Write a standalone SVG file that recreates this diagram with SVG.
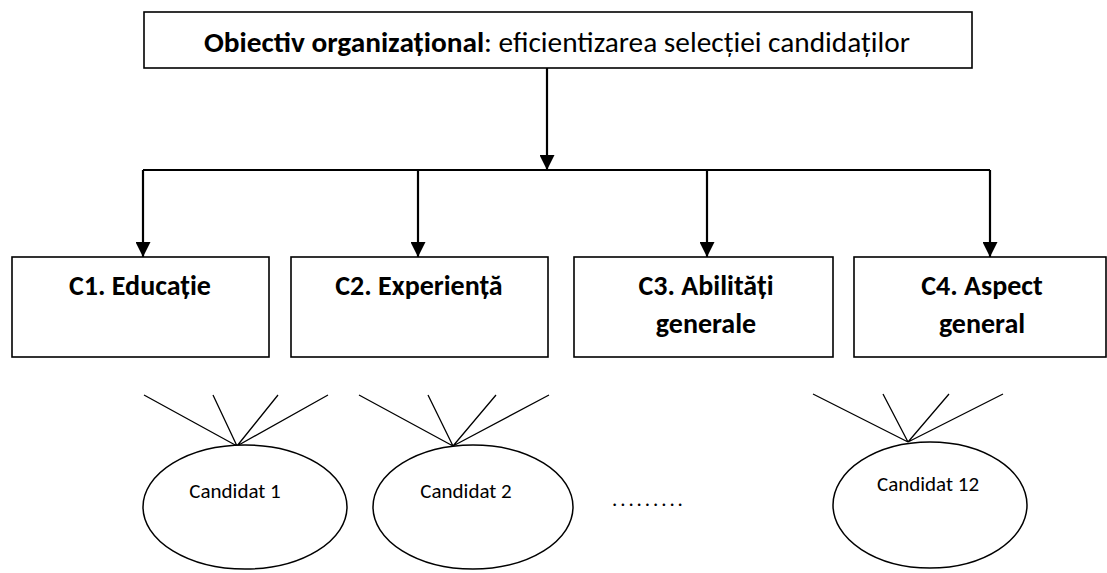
<svg xmlns="http://www.w3.org/2000/svg" width="1107" height="573" viewBox="0 0 1107 573">
<style>
.box{fill:#fff;stroke:#000;stroke-width:1.6}
.conn{fill:none;stroke:#000;stroke-width:2.2}
.fan{fill:none;stroke:#000;stroke-width:1.3}
.ell{fill:#fff;stroke:#000;stroke-width:1.5}
.t{font-family:Carlito,Lato,"Liberation Sans",sans-serif;fill:#000}
.cb{font-size:28px;font-weight:bold;text-anchor:middle}
.cand{font-size:21px;text-anchor:middle}
</style>
<defs>
<marker id="arr" viewBox="0 0 10 10" refX="10" refY="5" markerWidth="15" markerHeight="15" markerUnits="userSpaceOnUse" orient="auto">
<path d="M0,0 L10,5 L0,10 z" fill="#000"/>
</marker>
</defs>
<rect width="1107" height="573" fill="#fff"/>
<g id="obiectiv">
<rect class="box" x="144" y="12" width="828" height="56"/>
<text class="t" x="204" y="52" font-size="28" textLength="706" lengthAdjust="spacingAndGlyphs"><tspan font-weight="bold">Obiectiv organizațional</tspan>: eficientizarea selecției candidaților</text>
</g>
<g id="connectors">
<line class="conn" x1="547" y1="68" x2="547" y2="170" marker-end="url(#arr)"/>
<line class="conn" x1="143" y1="170" x2="990" y2="170"/>
<line class="conn" x1="143" y1="170" x2="143" y2="257" marker-end="url(#arr)"/>
<line class="conn" x1="418" y1="170" x2="418" y2="257" marker-end="url(#arr)"/>
<line class="conn" x1="707" y1="170" x2="707" y2="257" marker-end="url(#arr)"/>
<line class="conn" x1="990" y1="170" x2="990" y2="257" marker-end="url(#arr)"/>
<path class="fan" d="M237,446 L144,395 M237,446 L213,395 M237,446 L278,395 M237,446 L328,395"/>
<path class="fan" d="M453,446 L359,395 M453,446 L428,395 M453,446 L496,395 M453,446 L549,395"/>
<path class="fan" d="M908,442 L813,394 M908,442 L883,394 M908,442 L949,394 M908,442 L1003,394"/>
</g>
<g id="c1">
<rect class="box" x="12" y="257" width="257" height="100"/>
<text class="t cb" x="140" y="295">C1. Educație</text>
</g>
<g id="c2">
<rect class="box" x="291" y="257" width="257" height="100"/>
<text class="t cb" x="419" y="295">C2. Experiență</text>
</g>
<g id="c3">
<rect class="box" x="574" y="257" width="259" height="100"/>
<text class="t cb" x="706" y="295">C3. Abilități</text>
<text class="t cb" x="706" y="333">generale</text>
</g>
<g id="c4">
<rect class="box" x="854" y="257" width="252" height="100"/>
<text class="t cb" x="982" y="295">C4. Aspect</text>
<text class="t cb" x="982" y="333">general</text>
</g>
<g id="candidat1">
<ellipse class="ell" cx="245" cy="507" rx="102" ry="62"/>
<text class="t cand" x="235" y="498">Candidat 1</text>
</g>
<g id="candidat2">
<ellipse class="ell" cx="473" cy="507" rx="100" ry="62"/>
<text class="t cand" x="466" y="498">Candidat 2</text>
</g>
<g id="dots">
<text class="t" x="612" y="506" font-size="21" letter-spacing="2.9">.........</text>
</g>
<g id="candidat12">
<ellipse class="ell" cx="930" cy="505" rx="97" ry="63"/>
<text class="t cand" x="928" y="491">Candidat 12</text>
</g>
</svg>
